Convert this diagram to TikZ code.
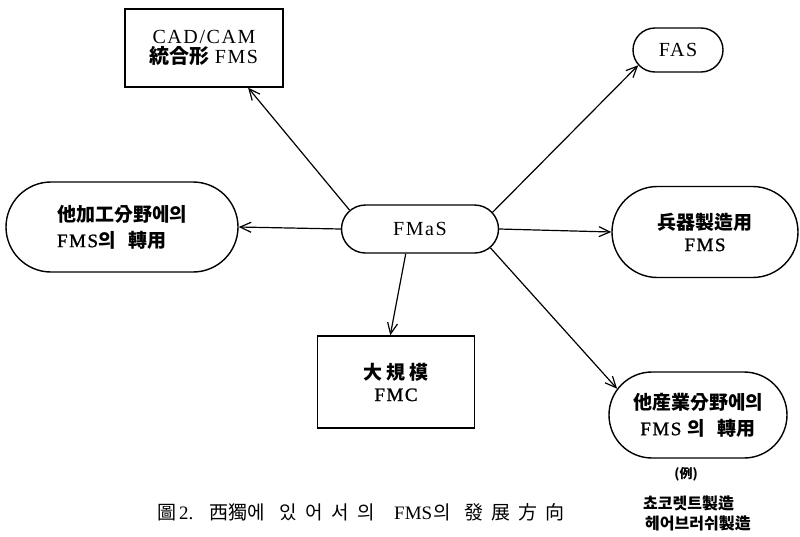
\documentclass[tikz,border=0pt]{standalone}
\usepackage{fontspec}
\setmainfont{Liberation Serif}
\newfontfamily\cjk{Noto Sans CJK KR}
\newfontfamily\lsp[LetterSpace=8]{Liberation Serif}
\newfontfamily\lspm[LetterSpace=8,FakeBold=1.2]{Liberation Serif}
\usetikzlibrary{arrows.meta,shapes.misc}
% bold hangul/hanja inside the boxes
\newcommand\hk[1]{{\cjk\bfseries #1}}

\begin{document}
\begin{tikzpicture}[x=1pt,y=-1pt,
  box/.style={draw,line width=1.4pt,inner sep=0pt,align=center,
              font=\fontsize{19}{26}\selectfont},
  pill/.style={box,rounded rectangle},
  conn/.style={line width=1.2pt,-{Straight Barb[length=11pt,width=10pt]}},
  note/.style={inner sep=0pt,font=\cjk\bfseries\fontsize{16}{18}\selectfont}]

\useasboundingbox (0,0) rectangle (800,536);

% centre and outer boxes
\node[pill,minimum width=157pt,minimum height=48pt,font=\fontsize{20}{26}\selectfont] (fmas) at (420,229)
  {\lsp FMaS};
\node[box,minimum width=158pt,minimum height=78pt,font=\fontsize{20}{26}\selectfont] (cad) at (204,48)
  {\lsp CAD/CAM\\[-6pt]\hk{統合形} \lsp FMS};
\node[pill,minimum width=90pt,minimum height=44pt,font=\fontsize{20}{26}\selectfont] (fas) at (678,50)
  {\lsp FAS};
\node[pill,minimum width=232pt,minimum height=90pt,align=left] (oth) at (122,227)
  {\hk{他加工分野에의}\\\lspm FMS\hk{의}\ \ \hk{轉用}};
\node[pill,minimum width=186pt,minimum height=91pt] (wpn) at (705,232)
  {\hk{兵器製造用}\\[-4pt]\lspm FMS};
\node[box,minimum width=157pt,minimum height=92pt] (fmc) at (396,382)
  {\hk{大\ 規\ 模}\\[-4pt]{\lspm FMC}};
\node[pill,minimum width=178pt,minimum height=86pt] (ind) at (698,415)
  {\hk{他産業分野에의}\\\lspm FMS \hk{의}\ \ \hk{轉用}};

% examples under the last box
\node[note,font=\cjk\bfseries\fontsize{13}{14}\selectfont] (ex) at (686,474) {(例)};
\node[note,anchor=west] (ex1) at (643,503) {쵸코렛트製造};
\node[note,anchor=west] (ex2) at (645,523) {헤어브러쉬製造};

% caption, each word set into a fixed width
\node[inner sep=0pt,anchor=west,font=\fontsize{19}{22}\selectfont] (cap) at (157,512)
  {\makebox[22pt][l]{\cjk 圖}%
   \makebox[30pt][l]{2.}%
   \makebox[70pt][l]{\cjk 西獨에}%
   \makebox[115pt][l]{\cjk\makebox[96pt][s]{있\hfil 어\hfil 서\hfil 의}}%
   \makebox[70pt][l]{FMS\hspace{1pt}{\cjk 의}}%
   {\cjk\makebox[100pt][s]{發\hfil 展\hfil 方\hfil 向}}};

% connectors
\draw[conn] (fmas.165) -- (cad.-42);
\draw[conn] (fmas.west) -- (oth.east);
\draw[conn] (fmas.13) -- (fas.201);
\draw[conn] (fmas.east) -- (wpn.west);
\draw[conn] (fmas.-120) -- (fmc.97);
\draw[conn] (fmas.-15) -- (ind.162);
\end{tikzpicture}
\end{document}
